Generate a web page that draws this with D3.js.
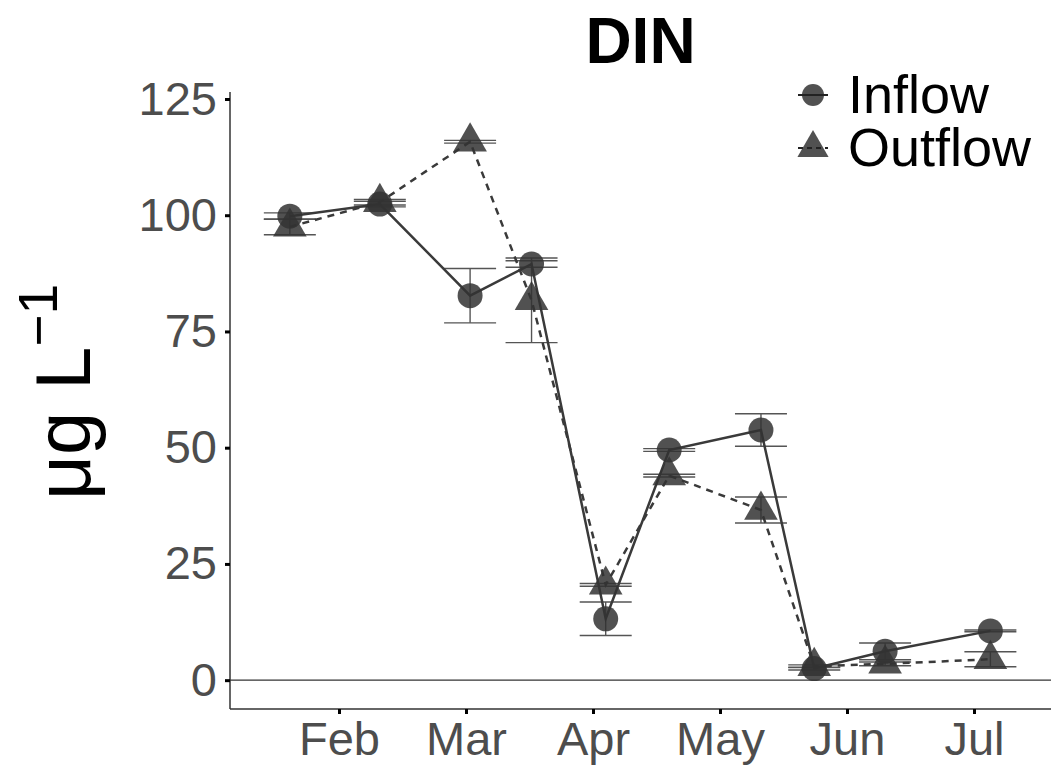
<!DOCTYPE html>
<html>
  <head>
    <meta charset="utf-8">
    <title>DIN</title>
    <script src="https://d3js.org/d3.v7.min.js"></script>
    <style>
      body { margin: 0; background: #fff; }
      text { font-family: "Liberation Sans", Arial, sans-serif; }
    </style>
  </head>
<body>
  <script type="text/javascript">
    // sampling dates (same for both series)
    var dates = ["2019-01-20", "2019-02-10", "2019-03-02", "2019-03-17", "2019-04-04",
                 "2019-04-19", "2019-05-11", "2019-05-24", "2019-06-10", "2019-07-05"];

    // mean DIN (ug/L) and standard error
    var inflowMean  = [99.8, 102.4, 82.7, 89.5, 13.2, 49.5, 53.8, 2.5, 6.2, 10.6];
    var inflowSE    = [0.7, 0.6, 5.85, 0.7, 3.6, 0.3, 3.5, 0.3, 1.8, 0.2];
    var outflowMean = [97.5, 102.8, 115.8, 81.7, 20.5, 44.0, 36.6, 3.0, 3.5, 4.5];
    var outflowSE   = [1.7, 0.6, 0.3, 9.1, 0.3, 0.3, 2.8, 0.3, 0.4, 1.6];

    var monthTicks = [2, 3, 4, 5, 6, 7];
    var monthLabels = ["Feb", "Mar", "Apr", "May", "Jun", "Jul"];
    var yTicks = [0, 25, 50, 75, 100, 125];

    var width = 1051, height = 768;
    var panel = {left: 230, right: 1051, top: 92, bottom: 709};

    // month position: month number + fraction of month elapsed
    var parse = d3.timeParse("%Y-%m-%d");
    function monthPos(s) {
      var d = parse(s);
      var days = new Date(d.getFullYear(), d.getMonth() + 1, 0).getDate();
      return d.getMonth() + 1 + (d.getDate() - 1) / days;
    }

    var series = [
      {name: "Inflow", mean: inflowMean, se: inflowSE, symbol: d3.symbolCircle, dash: null},
      {name: "Outflow", mean: outflowMean, se: outflowSE, symbol: d3.symbolTriangle, dash: "7,6"}
    ];
    series.forEach(function(s) {
      s.values = dates.map(function(d, i) {
        return {x: monthPos(d), y: s.mean[i], se: s.se[i]};
      });
    });

    var x = d3.scaleLinear().domain([2, 7]).range([339, 974]);
    var y = d3.scaleLinear().domain([-6.2, 126.5]).range([panel.bottom, panel.top]);

    var svg = d3.select("body").append("svg")
        .attr("width", width)
        .attr("height", height);

    // title
    svg.append("text")
        .attr("x", (panel.left + panel.right) / 2)
        .attr("y", 63)
        .attr("text-anchor", "middle")
        .attr("font-size", 64)
        .attr("font-weight", "bold")
        .text("DIN");

    // y axis label
    var ylab = svg.append("text")
        .attr("transform", "translate(90,392) rotate(-90)")
        .attr("text-anchor", "middle")
        .attr("font-size", 78)
        .attr("fill", "#000");
    ylab.append("tspan").text("μg L");
    ylab.append("tspan").attr("dy", -33).attr("font-size", 55).text("−1");

    // zero line
    svg.append("line")
        .attr("x1", panel.left).attr("x2", panel.right)
        .attr("y1", y(0)).attr("y2", y(0))
        .attr("stroke", "#333").attr("stroke-width", 1.2);

    // axes
    var yAxis = svg.append("g")
        .attr("transform", "translate(" + panel.left + ",0)")
        .call(d3.axisLeft(y).tickValues(yTicks).tickSize(5).tickPadding(8));
    var xAxis = svg.append("g")
        .attr("transform", "translate(0," + panel.bottom + ")")
        .call(d3.axisBottom(x).tickValues(monthTicks).tickSize(5).tickPadding(8)
              .tickFormat(function(d, i) { return monthLabels[i]; }));

    [yAxis, xAxis].forEach(function(a) {
      a.select(".domain").attr("stroke", "#333").attr("stroke-width", 1.5);
      a.selectAll(".tick line").attr("stroke", "#000").attr("stroke-width", 3);
      a.selectAll(".tick text")
          .attr("font-family", "Liberation Sans, Arial, sans-serif")
          .attr("font-size", 47)
          .attr("fill", "#4d4d4d");
    });
    yAxis.select(".domain").attr("d", "M0," + panel.bottom + "V" + panel.top);
    xAxis.select(".domain").attr("d", "M" + panel.left + ",0H" + panel.right);

    // error bars
    series.forEach(function(s) {
      var g = svg.append("g").attr("stroke", "#555").attr("stroke-width", 1.4);
      s.values.forEach(function(v) {
        var cx = x(v.x), hi = y(v.y + v.se), lo = y(v.y - v.se);
        g.append("line").attr("x1", cx).attr("x2", cx).attr("y1", hi).attr("y2", lo);
        g.append("line").attr("x1", cx - 26).attr("x2", cx + 26).attr("y1", hi).attr("y2", hi);
        g.append("line").attr("x1", cx - 26).attr("x2", cx + 26).attr("y1", lo).attr("y2", lo);
      });
    });

    // lines
    var line = d3.line().x(function(d) { return x(d.x); }).y(function(d) { return y(d.y); });
    series.forEach(function(s) {
      svg.append("path")
          .datum(s.values)
          .attr("d", line)
          .attr("fill", "none")
          .attr("stroke", "#3a3a3a")
          .attr("stroke-width", 2.5)
          .attr("stroke-dasharray", s.dash);
    });

    // points
    series.forEach(function(s) {
      svg.append("g").selectAll("path")
          .data(s.values)
          .enter().append("path")
          .attr("transform", function(d) { return "translate(" + x(d.x) + "," + y(d.y) + ")"; })
          .attr("d", d3.symbol().type(s.symbol).size(490))
          .attr("fill", "#333")
          .attr("fill-opacity", 0.85);
    });

    // legend
    var legend = svg.append("g").attr("transform", "translate(813,95)");
    series.forEach(function(s, i) {
      var g = legend.append("g").attr("transform", "translate(0," + (i * 53) + ")");
      g.append("path")
          .attr("d", d3.symbol().type(s.symbol).size(i == 0 ? 380 : 420))
          .attr("fill", "#333").attr("fill-opacity", 0.85);
      g.append("line")
          .attr("x1", -15).attr("x2", 15)
          .attr("stroke", "#222").attr("stroke-width", 2)
          .attr("stroke-dasharray", s.dash ? "5,4" : null);
      g.append("text")
          .attr("x", 35).attr("y", 18)
          .attr("font-size", 54)
          .attr("font-family", "DejaVu Sans, sans-serif")
          .text(s.name);
    });
  </script>
</body>
</html>
